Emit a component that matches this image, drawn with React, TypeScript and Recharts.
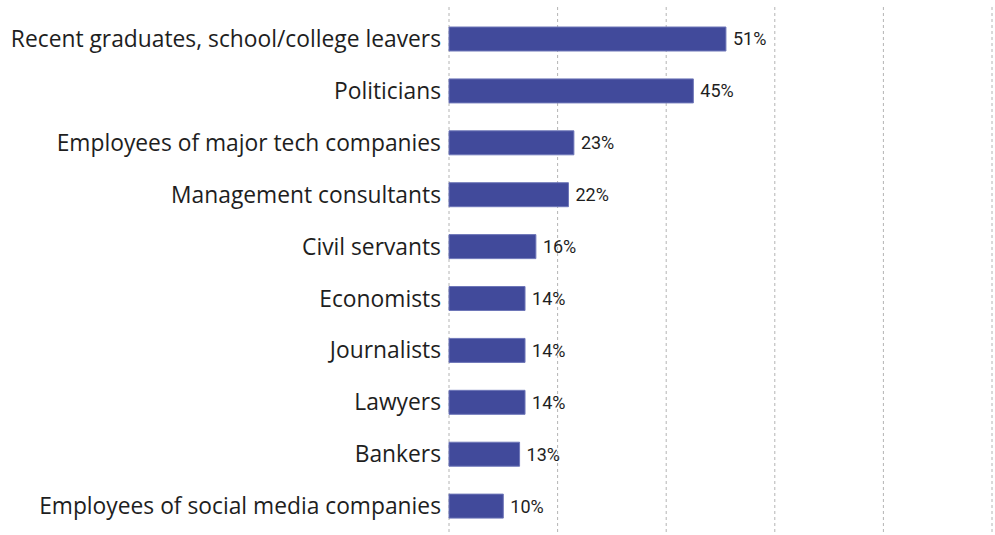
import { Bar, BarChart, CartesianGrid, LabelList, XAxis, YAxis } from "recharts";

const GROUPS = [
    "Recent graduates, school/college leavers",
    "Politicians",
    "Employees of major tech companies",
    "Management consultants",
    "Civil servants",
    "Economists",
    "Journalists",
    "Lawyers",
    "Bankers",
    "Employees of social media companies",
];

const SHARES = [51, 45, 23, 22, 16, 14, 14, 14, 13, 10];

const X_TICKS = [0, 20, 40, 60, 80, 100];

const rows = GROUPS.map((group, i) => ({ group, share: SHARES[i] }));

const App = () => {
    return (
        <div style={{ position: "absolute", left: 0, top: 0, background: "#fff" }}>
            <BarChart
                width={995}
                height={535}
                data={rows}
                layout="vertical"
                margin={{ top: 7, right: 3, bottom: 3, left: 0 }}
                barCategoryGap="27%"
            >
                <CartesianGrid
                    horizontal={false}
                    stroke="#b4b4b4"
                    strokeDasharray="3 3"
                />
                <XAxis type="number" domain={[0, 100]} ticks={X_TICKS} hide />
                <YAxis
                    type="category"
                    dataKey="group"
                    width={449}
                    padding={{ top: 6, bottom: 0 }}
                    axisLine={false}
                    tickLine={false}
                    interval={0}
                    tick={{ fill: "#1e1e1e", fontSize: 22.8, fontFamily: "Open Sans" }}
                />
                <Bar
                    dataKey="share"
                    fill="#414a9b"
                    stroke="#6e76b8"
                    strokeWidth={1}
                    isAnimationActive={false}
                >
                    <LabelList
                        dataKey="share"
                        position="right"
                        offset={7}
                        formatter={(v: number) => `${v}%`}
                        style={{ fill: "#1e1e1e", fontSize: 18, fontFamily: "Roboto" }}
                    />
                </Bar>
            </BarChart>
        </div>
    );
};

export default App;
